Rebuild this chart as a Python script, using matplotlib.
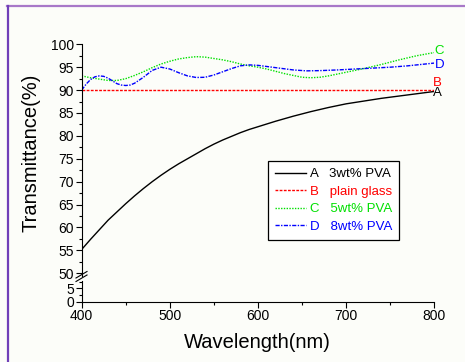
import matplotlib
matplotlib.use("Agg")
import matplotlib.pyplot as plt
from matplotlib.lines import Line2D
from matplotlib.ticker import MultipleLocator

plt.rcParams['font.family'] = ['Liberation Sans', 'DejaVu Sans']

# A: 3wt% PVA
wl_a = [400, 410, 420, 430, 440, 450, 460, 470, 480, 490, 500, 510, 520, 530, 540,
        550, 560, 570, 580, 590, 600, 620, 640, 660, 680, 700, 720, 740, 760, 780, 800]
t_a = [55.2, 57.4, 59.5, 61.6, 63.4, 65.2, 66.9, 68.5, 70.0, 71.4, 72.7, 73.9, 75.0, 76.1, 77.2,
       78.2, 79.1, 79.9, 80.7, 81.4, 82.0, 83.2, 84.3, 85.3, 86.2, 87.0, 87.6, 88.2, 88.7, 89.2, 89.7]

# B: plain glass
wl_b = [400, 800]
t_b = [90.0, 90.0]

# C: 5wt% PVA
wl_c = [400, 410, 420, 430, 440, 450, 460, 470, 480, 490, 500, 510, 520, 530, 540, 550, 560,
        570, 580, 590, 600, 610, 620, 630, 640, 650, 660, 670, 680, 690, 700, 720, 740, 760, 780, 800]
t_c = [93.1, 92.7, 92.4, 92.1, 92.1, 92.5, 93.2, 94.0, 94.9, 95.7, 96.3, 96.8, 97.1, 97.3, 97.2, 96.9, 96.6,
       96.2, 95.7, 95.3, 95.0, 94.6, 94.1, 93.6, 93.2, 92.8, 92.7, 92.8, 93.1, 93.5, 93.9, 94.7, 95.6, 96.6, 97.5, 98.2]

# D: 8wt% PVA
wl_d = [400, 405, 410, 415, 420, 425, 430, 435, 440, 445, 450, 455, 460, 470, 480, 490, 500,
        510, 520, 530, 540, 550, 560, 570, 580, 590, 600, 620, 640, 655, 670, 690, 710, 730, 750, 770, 790, 800]
t_d = [90.0, 91.3, 92.3, 92.9, 93.1, 93.0, 92.6, 92.0, 91.4, 91.1, 91.0, 91.1, 91.5, 92.8, 94.3, 95.0, 94.6,
       93.8, 93.1, 92.75, 92.8, 93.3, 94.0, 94.7, 95.3, 95.5, 95.4, 94.9, 94.4, 94.2, 94.25, 94.4, 94.6, 94.8, 95.0, 95.3, 95.7, 95.9]

labels = ["A   3wt% PVA", "B   plain glass", "C   5wt% PVA", "D   8wt% PVA"]
colors = ["black", "#ff0000", "#00e000", "#0000ff"]

W, H = 465, 362
fig = plt.figure(figsize=(W / 100, H / 100), dpi=100)
fig.patch.set_facecolor('#fcfdf9')

def fx(px):
    return px / W

def fy(py):
    return 1 - py / H

left, right = 81.7, 434.3
ax = fig.add_axes([fx(left), fy(276), fx(right - left), fy(44.3) - fy(276)])
axl = fig.add_axes([fx(left), fy(301.7), fx(right - left), fy(281) - fy(301.7)], sharex=ax)

for a in (ax, axl):
    a.set_facecolor('none')
    a.spines['top'].set_visible(False)
    a.spines['right'].set_visible(False)
    a.tick_params(which='major', direction='out', length=4, width=0.8, labelsize=10, pad=1.5)
    a.tick_params(which='minor', direction='out', length=2, width=0.8)
ax.spines['bottom'].set_visible(False)
ax.tick_params(axis='x', which='both', bottom=False, labelbottom=False)

lns = []
lns += ax.plot(wl_a, t_a, color=colors[0], lw=1.0, ls='-')
lns += ax.plot(wl_b, t_b, color=colors[1], lw=1.0, ls=(0, (2, 1)))
lns += ax.plot(wl_c, t_c, color=colors[2], lw=1.0, ls=(0, (1, 1)))
lns += ax.plot(wl_d, t_d, color=colors[3], lw=1.0, ls=(0, (3, 1, 1, 1)))

ax.set_xlim(400, 800)
ax.set_ylim(49.4, 100)
ax.yaxis.set_major_locator(MultipleLocator(5))
ax.yaxis.set_minor_locator(MultipleLocator(2.5))

axl.set_ylim(0, 7.8)
axl.yaxis.set_major_locator(MultipleLocator(5))
axl.yaxis.set_minor_locator(MultipleLocator(2.5))
axl.xaxis.set_major_locator(MultipleLocator(100))
axl.xaxis.set_minor_locator(MultipleLocator(50))

# end labels
for txt, x, y, c in [("C", 805, 98.6, colors[2]), ("D", 806, 95.5, colors[3]),
                     ("B", 803, 91.6, colors[1]), ("A", 804, 89.3, colors[0])]:
    ax.text(x, y, txt, color=c, fontsize=9.5, ha='center', va='center', clip_on=False)

leg = ax.legend(lns, labels, loc='upper left', bbox_to_anchor=(fx(268), fy(160.7)),
                bbox_transform=fig.transFigure, fontsize=9.5, labelcolor='linecolor',
                handlelength=2.3, handletextpad=0.3, labelspacing=0.4,
                borderpad=0.55, borderaxespad=0, fancybox=False, framealpha=1,
                facecolor='white')
leg.get_frame().set_edgecolor('black')
leg.get_frame().set_linewidth(0.9)

# axis break marks
for dy in (0, 3.5):
    fig.add_artist(Line2D([fx(76), fx(87)], [fy(278 + dy), fy(271.5 + dy)],
                          color='black', lw=0.8))

fig.text(fx(31), fy(152.5), "Transmittance(%)", rotation=90, fontsize=14.5,
         ha='center', va='center')
fig.text(fx(257.5), fy(343), "Wavelength(nm)", fontsize=14.5, ha='center', va='center')

# frame lines
fig.add_artist(Line2D([fx(6.5), 1], [fy(5.7), fy(5.7)], color='#a878c8', lw=1.6))
fig.add_artist(Line2D([fx(7.5), fx(7.5)], [0, fy(5.7)], color='#7040b8', lw=1.6))

fig.savefig("out.png", dpi=100, facecolor=fig.get_facecolor())
